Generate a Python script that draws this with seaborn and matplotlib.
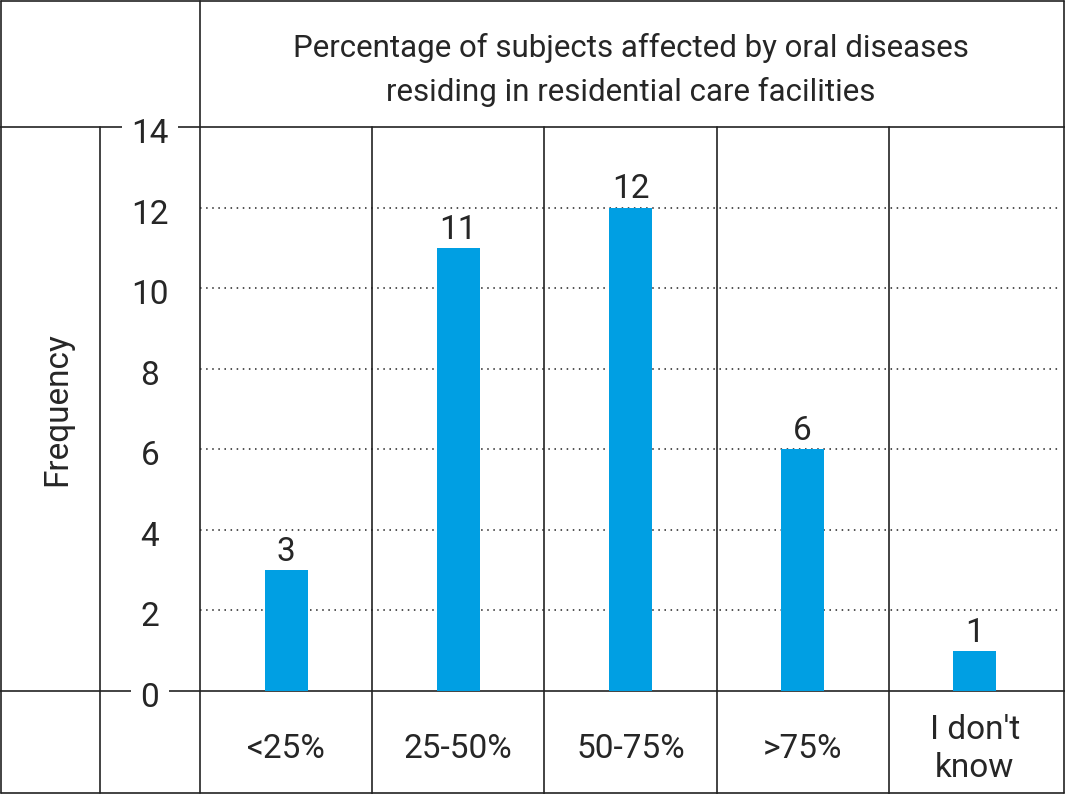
import pandas as pd
import seaborn as sns
import matplotlib.pyplot as plt
from matplotlib.lines import Line2D
from matplotlib.transforms import ScaledTranslation

categories = ["<25%", "25-50%", "50-75%", ">75%", "I don't\nknow"]
frequency = [3, 11, 12, 6, 1]
y_ticks = [0, 2, 4, 6, 8, 10, 12, 14]

title = "Percentage of subjects affected by oral diseases\nresiding in residential care facilities"
bar_color = "#009FE3"
line_color = "#222222"

sns.set_style("white")
plt.rcParams['font.family'] = ['Roboto', 'DejaVu Sans']

df = pd.DataFrame({"category": categories, "frequency": frequency})

W, H = 1065, 794
fig = plt.figure(figsize=(W / 100, H / 100), dpi=100)
ax = fig.add_axes([200 / W, 1 - 691 / H, 861 / W, 564 / H])
ax.patch.set_visible(False)

sns.barplot(data=df, x="category", y="frequency", order=categories,
            color=bar_color, saturation=1, width=0.25, linewidth=0, ax=ax)
ax.set_xlim(-0.5, len(categories) - 0.5)
ax.set_ylim(0, 14)
ax.set_xlabel("")
ax.set_ylabel("")

# dotted grid
for v in y_ticks[1:-1]:
    ax.axhline(v, color=line_color, lw=1.1, ls=(0, (1, 3)), zorder=0)

for s in ax.spines.values():
    s.set_visible(False)

# y tick labels, sitting a bit below their value like the original
ax.set_yticks(y_ticks)
ax.set_yticklabels([])
ax.tick_params(axis="y", length=0)
shift = ScaledTranslation(-50 / 100, -7 / 100, fig.dpi_scale_trans)
for t in y_ticks:
    ax.text(0, t, str(t), transform=ax.get_yaxis_transform() + shift,
            ha="center", va="center", fontsize=24, zorder=5, clip_on=False,
            bbox=dict(facecolor="white", edgecolor="none", pad=7))

ax.tick_params(axis="x", length=0, pad=42, labelsize=24)
for lab in ax.get_xticklabels():
    lab.set_va("center")
    lab.set_linespacing(1.25)

for c in ax.containers:
    ax.bar_label(c, fontsize=24, padding=1.5)

# category separators
for x in [0.5, 1.5, 2.5, 3.5]:
    ax.axvline(x, ymin=-0.19, ymax=1, color=line_color, lw=1.2, clip_on=False, zorder=0)

def fline(x0, y0, x1, y1):
    fig.add_artist(Line2D([x0 / W, x1 / W], [1 - y0 / H, 1 - y1 / H],
                          color=line_color, lw=1.2, zorder=-1))

fline(1, 1, W - 1, 1)
fline(1, H - 1, W - 1, H - 1)
fline(1, 1, 1, H - 1)
fline(W - 1, 1, W - 1, H - 1)
fline(200, 1, 200, H - 1)
fline(100, 127, 100, H - 1)
fline(0, 127, W, 127)
fline(0, 691, W, 691)

fig.text(631 / W, 1 - 70 / H, title, ha="center", va="center", fontsize=22.5, linespacing=1.55)
fig.text(57 / W, 1 - 409 / H, "Frequency", ha="center", va="center", rotation=90, fontsize=24)

fig.savefig("out.png", dpi=100)
